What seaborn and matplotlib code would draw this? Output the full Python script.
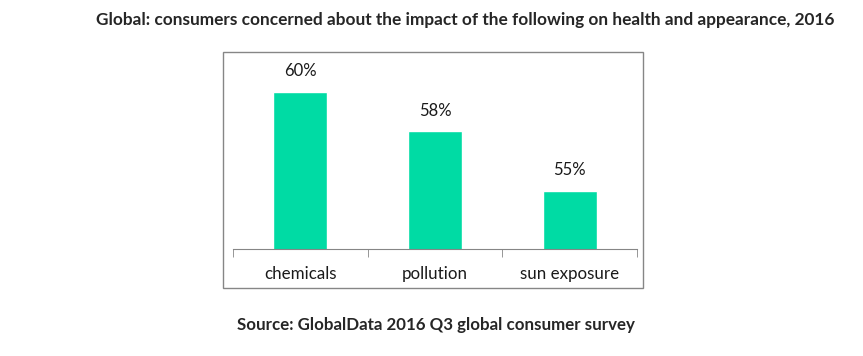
import matplotlib.pyplot as plt
from matplotlib.patches import Rectangle
import seaborn as sns
import pandas as pd

# dados
categories = ["chemicals", "pollution", "sun exposure"]
values = [60, 58, 55]
labels = ["60%", "58%", "55%"]

sns.set_style("white")
plt.rcParams['font.family'] = ['Lato', 'DejaVu Sans']

df = pd.DataFrame({"cat": categories, "val": values})

fig = plt.figure(figsize=(8.63, 3.56), dpi=100)
W, H = 863, 356
# area do grafico (pixels): x 233-637, y 60-249
ax = fig.add_axes([233 / W, 1 - 249 / H, (637 - 233) / W, (249 - 60) / H])

sns.barplot(data=df, x="cat", y="val", color="#00DBA4", width=0.4,
            saturation=1, ax=ax)
ax.set_ylim(52.05, 61.6)
ax.set_xlim(-0.5, 2.5)

for i, (v, l) in enumerate(zip(values, labels)):
    ax.annotate(l, (i, v), xytext=(0, 9), textcoords="offset points",
                ha="center", va="bottom", fontsize=12, color="#1a1a1a")

for s in ["top", "right", "left"]:
    ax.spines[s].set_visible(False)
ax.spines["bottom"].set_color("#868686")
ax.set_yticks([])
ax.set_xticks([-0.5, 0.5, 1.5, 2.5], minor=True)
ax.tick_params(axis="x", which="minor", length=6, color="#868686", direction="out", bottom=True)
ax.tick_params(axis="x", which="major", length=0, labelsize=12.2, pad=12, labelcolor="#1a1a1a")
ax.set_xlabel("")
ax.set_ylabel("")

# borda externa do grafico
fig.add_artist(Rectangle((223 / W, 1 - 288 / H), (643 - 223) / W, (288 - 52) / H,
                         transform=fig.transFigure, fill=False,
                         edgecolor="#868686", linewidth=1))

fig.text(465 / W, 1 - 20 / H,
         "Global: consumers concerned about the impact of the following on health and appearance, 2016",
         ha="center", va="center", fontsize=12.4, fontweight="bold")
fig.text(436 / W, 1 - 325 / H, "Source: GlobalData 2016 Q3 global consumer survey",
         ha="center", va="center", fontsize=12.2, fontweight="bold")

plt.savefig("out.png", dpi=100)
